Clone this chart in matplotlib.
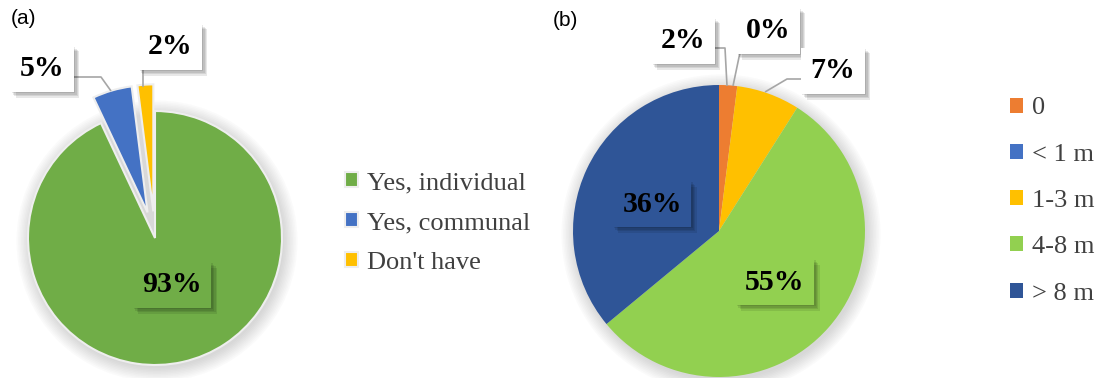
import matplotlib
matplotlib.use("Agg")
import matplotlib.pyplot as plt
from matplotlib import patheffects as pe
from matplotlib.patches import Circle

# (a) availability of a well
access_labels = ["Yes, individual", "Yes, communal", "Don't have"]
access_values = [93, 5, 2]
access_colors = ["#70AD47", "#4472C4", "#FFC000"]

# (b) well depth
depth_labels = ["0", "< 1 m", "1-3 m", "4-8 m", "> 8 m"]
depth_values = [2, 0, 7, 55, 36]
depth_colors = ["#ED7D31", "#4472C4", "#FFC000", "#92D050", "#2F5597"]

W, H = 1095, 378
fig = plt.figure(figsize=(W / 100, H / 100), dpi=100)
ax = fig.add_axes([0, 0, 1, 1])


def py(y):
    """Convert a top-down pixel row into the axes' bottom-up coordinate."""
    return H - y


SERIF = ["Liberation Serif", "DejaVu Serif"]
SANS = ["Liberation Sans", "DejaVu Sans"]


def soft_glow(cx, cy, r):
    for i in range(10):
        ax.add_patch(Circle((cx + 2, cy - 3), r + 1.5 * i, fc="#7f7f7f",
                            ec="none", alpha=0.03, zorder=0))


def box_shadow(t):
    effects = [pe.SimplePatchShadow(offset=(k, -k), shadow_rgbFace="black",
                                    alpha=0.09) for k in (1, 2, 3, 4)]
    t.get_bbox_patch().set_path_effects(effects + [pe.Normal()])


# ---- pie (a); the two small slices are pulled out of the pie
ca, ra = (155, py(238)), 127
pull = 0.21 * ra
soft_glow(*ca, ra)
wedges_a, _ = ax.pie(access_values, colors=access_colors, startangle=90,
                     counterclock=False, center=ca, radius=ra,
                     explode=[0, pull, pull],
                     wedgeprops=dict(edgecolor="#eeeeee", linewidth=1.5))

# ---- pie (b)
cb, rb = (719, py(231)), 146
soft_glow(*cb, rb)
wedges_b, _ = ax.pie(depth_values, colors=depth_colors, startangle=90,
                     counterclock=False, center=cb, radius=rb,
                     wedgeprops=dict(linewidth=0))

# leader lines
line_kw = dict(color="#a6a6a6", lw=1.2, zorder=3, solid_capstyle="butt")
ax.plot([72, 101, 111], [py(77), py(77), py(91)], **line_kw)
ax.plot([143, 143], [py(57), py(87)], **line_kw)
ax.plot([712, 725, 727], [py(48), py(48), py(86)], **line_kw)
ax.plot([743, 733], [py(38), py(86)], **line_kw)
ax.plot([802, 787, 765], [py(79), py(79), py(92)], **line_kw)

# percentage labels
label_kw = dict(ha="center", va="center", fontsize=21.5, fontweight="bold",
                family=SERIF, color="black", zorder=5)
label_pos_a = [(172, 285), (42, 69), (170, 47)]
label_face_a = ["#70AD47", "white", "white"]
for v, (x, y), fc in zip(access_values, label_pos_a, label_face_a):
    t = ax.text(x, py(y), f"{v}%", **label_kw,
                bbox=dict(boxstyle="square,pad=0.32", fc=fc, ec="none"))
    box_shadow(t)

label_pos_b = [(683, 41), (768, 31), (833, 71), (775, 282), (652, 204)]
label_face_b = ["white", "white", "white", "#92D050", "#2F5597"]
for v, (x, y), fc in zip(depth_values, label_pos_b, label_face_b):
    t = ax.text(x, py(y), f"{v}%", **label_kw,
                bbox=dict(boxstyle="square,pad=0.32", fc=fc, ec="none"))
    box_shadow(t)

# panel letters
ax.text(11, py(18), "(a)", fontsize=15, family=SANS, va="center", ha="left")
ax.text(553, py(20), "(b)", fontsize=15, family=SANS, va="center", ha="left")

# legends
leg_kw = dict(frameon=False, borderpad=0, borderaxespad=0,
              handlelength=0.5, handleheight=0.5, handletextpad=0.35,
              labelcolor="#404040", prop=dict(family=SERIF, size=19),
              loc="center left", bbox_transform=ax.transData)
leg_a = ax.legend(wedges_a, access_labels, bbox_to_anchor=(345, py(223)),
                  labelspacing=0.68, **leg_kw)
ax.add_artist(leg_a)
leg_b = ax.legend(wedges_b, depth_labels, bbox_to_anchor=(1010, py(201)),
                  labelspacing=0.92, **leg_kw)

ax.set_xlim(0, W)
ax.set_ylim(0, H)
ax.set_aspect("equal")
ax.axis("off")

fig.savefig("out.png", dpi=100)
